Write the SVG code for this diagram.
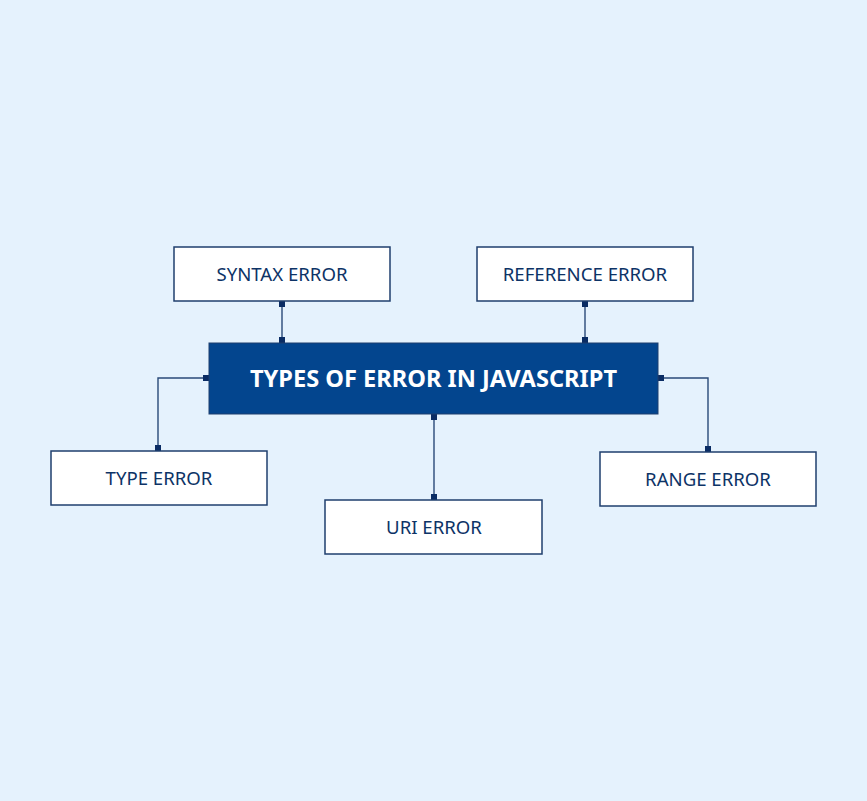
<svg xmlns="http://www.w3.org/2000/svg" width="867" height="801" viewBox="0 0 867 801">
<style>
.box{fill:#ffffff;stroke:#1f3f6e;stroke-width:1.5}
.lbl{font-family:"Noto Sans","DejaVu Sans",sans-serif;font-size:18.6px;fill:#0d3366;text-anchor:middle;dominant-baseline:central}
.main{font-family:"Noto Sans","DejaVu Sans",sans-serif;font-size:23.6px;font-weight:bold;fill:#ffffff;text-anchor:middle;dominant-baseline:central}
.ln{fill:none;stroke:#2a4a78;stroke-width:1.4}
.dot{fill:#0a2c64}
</style>
<rect width="867" height="801" fill="#e5f2fd"/>
<g id="connectors">
<path class="ln" d="M282 301V343"/>
<path class="ln" d="M585 301V343"/>
<path class="ln" d="M209 378H158V451"/>
<path class="ln" d="M658 378H708V452"/>
<path class="ln" d="M434 414V500"/>
<rect class="dot" x="279" y="301" width="6" height="6"/>
<rect class="dot" x="279" y="337" width="6" height="6"/>
<rect class="dot" x="582" y="301" width="6" height="6"/>
<rect class="dot" x="582" y="337" width="6" height="6"/>
<rect class="dot" x="203" y="375" width="6" height="6"/>
<rect class="dot" x="155" y="445" width="6" height="6"/>
<rect class="dot" x="658" y="375" width="6" height="6"/>
<rect class="dot" x="705" y="446" width="6" height="6"/>
<rect class="dot" x="431" y="414" width="6" height="6"/>
<rect class="dot" x="431" y="494" width="6" height="6"/>
</g>
<g id="main">
<rect x="209" y="343" width="449" height="71" fill="#03458e" stroke="#1f3f6e" stroke-width="1"/>
<text class="main" x="433.5" y="378">TYPES OF ERROR IN JAVASCRIPT</text>
</g>
<g id="syntax">
<rect class="box" x="174" y="247" width="216" height="54"/>
<text class="lbl" x="282" y="273">SYNTAX ERROR</text>
</g>
<g id="reference">
<rect class="box" x="477" y="247" width="216" height="54"/>
<text class="lbl" x="585" y="273">REFERENCE ERROR</text>
</g>
<g id="type">
<rect class="box" x="51" y="451" width="216" height="54"/>
<text class="lbl" x="159" y="477">TYPE ERROR</text>
</g>
<g id="range">
<rect class="box" x="600" y="452" width="216" height="54"/>
<text class="lbl" x="708" y="478">RANGE ERROR</text>
</g>
<g id="uri">
<rect class="box" x="325" y="500" width="217" height="54"/>
<text class="lbl" x="434" y="526">URI ERROR</text>
</g>
</svg>
